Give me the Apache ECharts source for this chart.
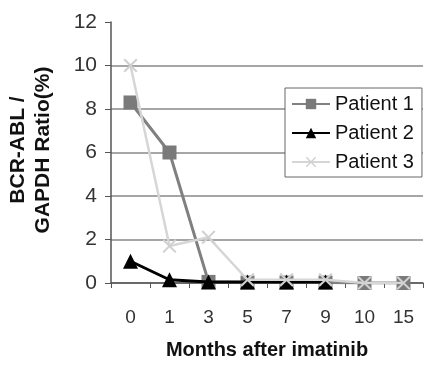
<!DOCTYPE html>
<html><head><meta charset="utf-8">
<script src="https://cdn.jsdelivr.net/npm/echarts@6/dist/echarts.min.js"></script>
<style>html,body{margin:0;padding:0;background:#fff}#c{width:425px;height:365px}</style>
</head><body><div id="c"></div>
<script>
var months = ['0','1','3','5','7','9','10','15'];
var patient1 = [8.3, 6.0, 0.05, 0.02, 0.02, 0.02, 0.0, 0.0];
var patient2 = [1.0, 0.15, 0.05, 0.05, 0.05, 0.05, null, null];
var patient3 = [10.0, 1.7, 2.1, 0.15, 0.15, 0.15, 0.0, 0.0];
var seriesNames = ['Patient 1','Patient 2','Patient 3'];
var yTitle = 'BCR-ABL /\nGAPDH Ratio(%)';
var xTitle = 'Months after imatinib';

var FONT = '"Liberation Sans", Arial, sans-serif';
var xShape = 'path://M0,1 L1,0 L5,4 L9,0 L10,1 L6,5 L10,9 L9,10 L5,6 L1,10 L0,9 L4,5 Z';
var chart = echarts.init(document.getElementById('c'), null, {renderer:'canvas'});
chart.setOption({
  animation:false,
  backgroundColor:'#fff',
  grid:{left:111, right:2, top:22, bottom:79, containLabel:false},
  xAxis:{
    type:'category', data:months, boundaryGap:true,
    axisLine:{lineStyle:{color:'#555', width:1.5}},
    axisTick:{show:true, inside:false, length:5, alignWithLabel:false, lineStyle:{color:'#555'}},
    axisLabel:{fontSize:19, color:'#333', fontFamily:FONT, margin:25},
    name:xTitle, nameLocation:'middle', nameGap:57,
    nameTextStyle:{fontSize:20, fontWeight:'bold', color:'#111', fontFamily:FONT}
  },
  yAxis:{
    type:'value', min:0, max:12, interval:2,
    axisLine:{show:true, lineStyle:{color:'#555', width:1.5}},
    axisTick:{show:true, inside:false, length:6, lineStyle:{color:'#555'}},
    axisLabel:{fontSize:21, color:'#333', fontFamily:FONT, margin:14},
    splitLine:{show:true, lineStyle:{color:['#888','#888','#888','#888','#888','#888','rgba(0,0,0,0)'], width:1.5}}
  },
  graphic:[{
    type:'text', x:31, y:150, rotation:Math.PI/2,
    style:{text:yTitle, fontSize:21, fontWeight:'bold', fill:'#111', fontFamily:FONT,
      align:'center', verticalAlign:'middle', lineHeight:25}
  }],
  legend:{
    orient:'vertical', left:285, top:88, padding:[6,8,5,6],
    borderColor:'#666', borderWidth:1, backgroundColor:'#fff',
    itemWidth:38, itemHeight:13, itemGap:9,
    textStyle:{fontSize:20, color:'#111', fontFamily:FONT},
    data:seriesNames
  },
  series:[
    {name:seriesNames[0], type:'line', data:patient1, symbol:'rect', symbolSize:14,
     lineStyle:{color:'#808080', width:3}, itemStyle:{color:'#7a7a7a'}, z:2},
    {name:seriesNames[1], type:'line', data:patient2, symbol:'triangle', symbolSize:15,
     lineStyle:{color:'#000', width:3}, itemStyle:{color:'#000'}, z:3},
    {name:seriesNames[2], type:'line', data:patient3, symbol:xShape, symbolSize:14,
     lineStyle:{color:'#d6d6d6', width:2.5}, itemStyle:{color:'#d0d0d0'}, z:4}
  ]
});
</script></body></html>
